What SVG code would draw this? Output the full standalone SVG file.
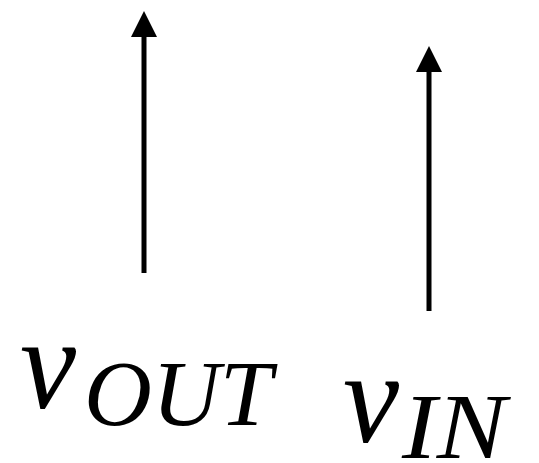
<svg xmlns="http://www.w3.org/2000/svg" width="539" height="463" viewBox="0 0 539 463">
<style>
.arr{stroke:#000;stroke-width:5;fill:none}
</style>
<defs>
<marker id="ah" markerUnits="userSpaceOnUse" markerWidth="26" markerHeight="26" viewBox="0 0 26 26" refX="0" refY="13" orient="auto">
<path d="M0,0 L26,13 L0,26 z" fill="#000"/>
</marker>
</defs>
<g id="connectors">
<line class="arr" x1="144" y1="273" x2="144" y2="37" marker-end="url(#ah)"/>
<line class="arr" x1="429" y1="311" x2="429" y2="72" marker-end="url(#ah)"/>
</g>
<g id="vout" font-family="Liberation Serif" font-style="italic" fill="#000">
<text x="20" y="408" font-size="132" textLength="56" lengthAdjust="spacingAndGlyphs">v</text>
<text x="84" y="425" font-size="94">OUT</text>
</g>
<g id="vin" font-family="Liberation Serif" font-style="italic" fill="#000">
<text x="343" y="442" font-size="132" textLength="56" lengthAdjust="spacingAndGlyphs">v</text>
<text x="402" y="458" font-size="94" textLength="104" lengthAdjust="spacingAndGlyphs">IN</text>
</g>
</svg>
